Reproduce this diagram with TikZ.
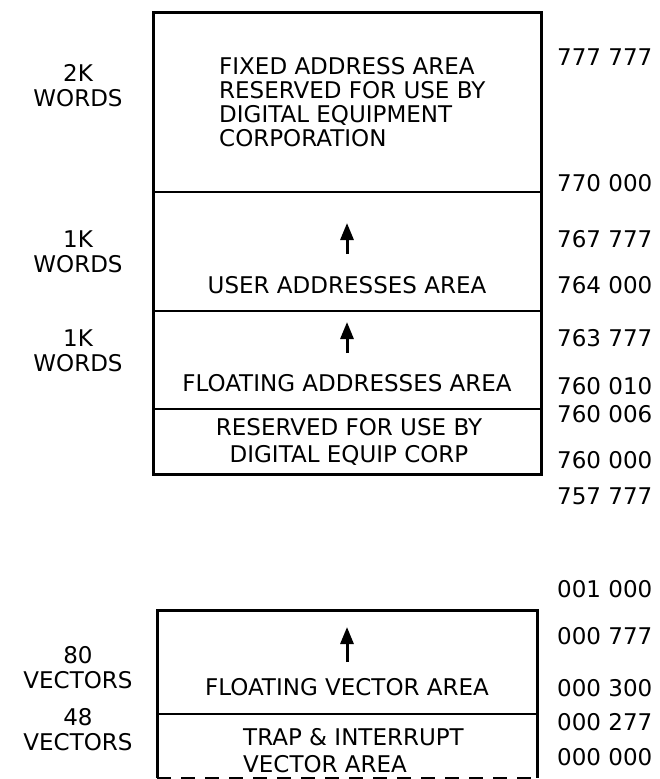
\documentclass[tikz,border=0pt]{standalone}
\usepackage{fontspec}
\setmainfont{DejaVu Sans}
\usetikzlibrary{arrows.meta}
\begin{document}
\begin{tikzpicture}[x=1pt,y=-1pt,
  lbl/.style={font=\fontsize{23}{24}\selectfont, inner sep=0pt, align=center},
  side/.style={font=\fontsize{23}{25}\selectfont, inner sep=0pt, align=center},
  addr/.style={font=\fontsize{23}{20}\selectfont, inner sep=0pt, anchor=west},
  outer/.style={line width=3pt},
  divider/.style={line width=2pt},
  uparrow/.style={-{Triangle[length=17pt,width=13pt]}, line width=3pt}]
\useasboundingbox (0,0) rectangle (659,779);
% top box
\draw[outer] (153,12) rectangle (541,474);
\draw[divider] (153,192) -- (541,192);
\draw[divider] (153,311) -- (541,311);
\draw[divider] (153,409) -- (541,409);
% bottom box
\draw[outer] (157,778) -- (157,610) -- (537,610) -- (537,778);
\draw[divider] (157,714) -- (537,714);
\draw[line width=1.5pt, dash pattern=on 14pt off 10pt] (157,778) -- (537,778);
% box texts
\node[lbl, align=left, anchor=north west] (fixed) at (219,57) {FIXED ADDRESS AREA\\RESERVED FOR USE BY\\DIGITAL EQUIPMENT\\CORPORATION};
\coordinate (a1s) at (347,254);
\coordinate (a1e) at (347,223);
\draw[uparrow] (a1s) -- (a1e);
\node[lbl] (user) at (347,285) {USER ADDRESSES AREA};
\coordinate (a2s) at (347,353);
\coordinate (a2e) at (347,322);
\draw[uparrow] (a2s) -- (a2e);
\node[lbl] (float) at (347,383) {FLOATING ADDRESSES AREA};
\node[lbl, font=\fontsize{23}{27}\selectfont] (res) at (349,442) {RESERVED FOR USE BY\\DIGITAL EQUIP CORP};
\coordinate (a3s) at (347,662);
\coordinate (a3e) at (347,627);
\draw[uparrow] (a3s) -- (a3e);
\node[lbl] (fva) at (347,687) {FLOATING VECTOR AREA};
\node[lbl, align=left, anchor=west, font=\fontsize{23}{27}\selectfont] (trap) at (243,751) {TRAP \& INTERRUPT\\VECTOR AREA};
% left labels
\node[side] (w1) at (78,86) {2K\\WORDS};
\node[side] (w2) at (78,252) {1K\\WORDS};
\node[side] (w3) at (78,351) {1K\\WORDS};
\node[side] (v1) at (78,668) {80\\VECTORS};
\node[side] (v2) at (78,730) {48\\VECTORS};
% addresses
\node[addr] (r1) at (557,57) {777 777};
\node[addr] (r2) at (557,183) {770 000};
\node[addr] (r3) at (557,239) {767 777};
\node[addr] (r4) at (557,285) {764 000};
\node[addr] (r5) at (557,338) {763 777};
\node[addr] (r6) at (557,386) {760 010};
\node[addr] (r7) at (557,414) {760 006};
\node[addr] (r8) at (557,460) {760 000};
\node[addr] (r9) at (557,496) {757 777};
\node[addr] (r10) at (557,589) {001 000};
\node[addr] (r11) at (557,636) {000 777};
\node[addr] (r12) at (557,688) {000 300};
\node[addr] (r13) at (557,722) {000 277};
\node[addr] (r14) at (557,757) {000 000};
\end{tikzpicture}
\end{document}
